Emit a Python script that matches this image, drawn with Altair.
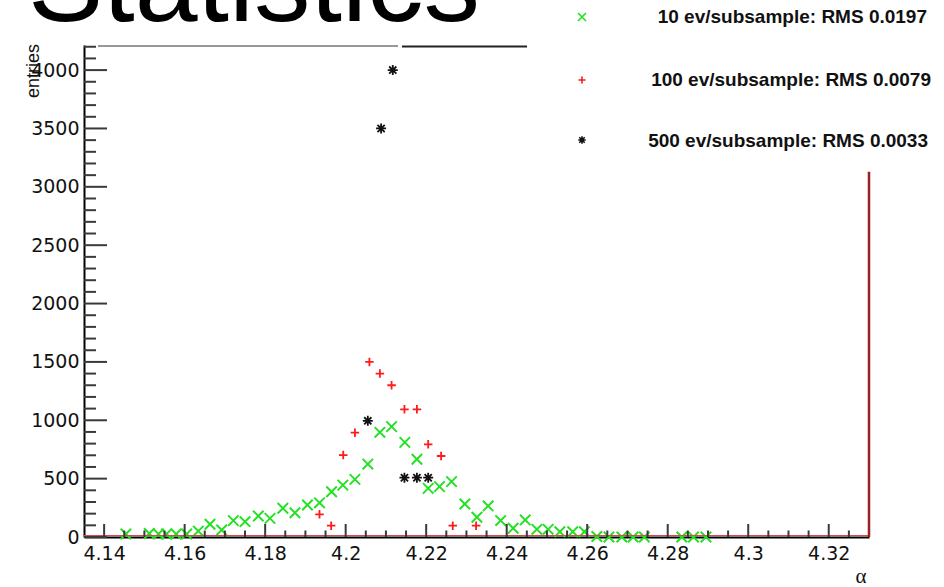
import altair as alt
import pandas as pd

# alpha bin centres and entries, 10 events per subsample
alpha_10 = [4.1454, 4.1512, 4.1535, 4.1555, 4.1579, 4.1605, 4.1634, 4.1663, 4.1692, 4.1721,
            4.1750, 4.1783, 4.1812, 4.1844, 4.1874, 4.1905, 4.1935, 4.1965, 4.1993, 4.2023,
            4.2055, 4.2085, 4.2114, 4.2147, 4.2177, 4.2205, 4.2233, 4.2263, 4.2296, 4.2326,
            4.2354, 4.2385, 4.2416, 4.2446, 4.2475, 4.2503, 4.2532, 4.2564, 4.2593, 4.2624,
            4.2654, 4.2686, 4.2714, 4.2742, 4.2835, 4.2864, 4.2895]
entries_10 = [26, 30, 26, 26, 26, 26, 51, 109, 60, 140,
              131, 180, 160, 246, 208, 274, 293, 388, 445, 494,
              625, 897, 945, 811, 666, 417, 431, 474, 283, 169,
              266, 141, 75, 146, 66, 66, 45, 45, 45, 4,
              0, 0, 0, 0, 0, 0, 0]

# 100 events per subsample
alpha_100 = [4.1935, 4.1964, 4.1994, 4.2023, 4.2059, 4.2085, 4.2114, 4.2146, 4.2177,
             4.2205, 4.2237, 4.2266, 4.2324]
entries_100 = [194, 97, 702, 894, 1500, 1400, 1300, 1094, 1094, 794, 694, 97, 97]

# 500 events per subsample
alpha_500 = [4.2055, 4.2088, 4.2117, 4.2146, 4.2177, 4.2205]
entries_500 = [995, 3500, 4000, 508, 508, 508]

legend_labels = ["10 ev/subsample: RMS 0.0197",
                 "100 ev/subsample: RMS 0.0079",
                 "500 ev/subsample: RMS 0.0033"]

# axis ticks
x_major = [4.14, 4.16, 4.18, 4.2, 4.22, 4.24, 4.26, 4.28, 4.3, 4.32]
x_minor = [4.145, 4.15, 4.155, 4.165, 4.17, 4.175, 4.185, 4.19, 4.195,
           4.205, 4.21, 4.215, 4.225, 4.23, 4.235, 4.245, 4.25, 4.255,
           4.265, 4.27, 4.275, 4.285, 4.29, 4.295, 4.305, 4.31, 4.315, 4.325]
y_major = [0, 500, 1000, 1500, 2000, 2500, 3000, 3500, 4000]
y_minor = [100, 200, 300, 400, 600, 700, 800, 900, 1100, 1200, 1300, 1400,
           1600, 1700, 1800, 1900, 2100, 2200, 2300, 2400, 2600, 2700, 2800, 2900,
           3100, 3200, 3300, 3400, 3600, 3700, 3800, 3900, 4100, 4200]

W, H = 785, 492
xs = alt.Scale(domain=[4.135, 4.33], nice=False, zero=False)
ys = alt.Scale(domain=[0, 4215], nice=False, zero=False)

X_SHAPE = "M-1,-1L1,1M-1,1L1,-1"
PLUS_SHAPE = "M-1,0L1,0M0,-1L0,1"
STAR_SHAPE = "M-1,0L1,0M0,-1L0,1M-0.72,-0.72L0.72,0.72M-0.72,0.72L0.72,-0.72"

GREEN, RED, BLACK = "#22e022", "#ff1a1a", "#111111"

# one axis definition per channel, shared by every layer that uses the scale
x_axis = alt.Axis(values=x_major, format="~g", title=None, ticks=False, tickSize=0,
                  grid=False, domainColor="#000000", domainWidth=2,
                  labelFont="DejaVu Sans", labelFontSize=19, labelColor="#111111",
                  labelPadding=7, labelFlush=False, labelOverlap=False)
y_axis = alt.Axis(values=y_major, format="d", title=None, ticks=False, tickSize=0,
                  grid=False, domainColor="#000000", domainWidth=2,
                  labelFont="DejaVu Sans", labelFontSize=19, labelColor="#111111",
                  labelPadding=5, labelFlush=False, labelOverlap=False)


def series(xv, nv, shape, size, color, sw):
    df = pd.DataFrame({"alpha": xv, "entries": nv})
    return alt.Chart(df).mark_point(
        shape=shape, size=size, filled=False, color=color, strokeWidth=sw, opacity=1
    ).encode(
        x=alt.X("alpha:Q", scale=xs, axis=x_axis),
        y=alt.Y("entries:Q", scale=ys, axis=y_axis),
    )


def y_ticks(vals, length, width):
    return alt.Chart(pd.DataFrame({"v": vals})).mark_rule(
        color="#3a3a3a", strokeWidth=width
    ).encode(y=alt.Y("v:Q", scale=ys, axis=y_axis), x=alt.value(0), x2=alt.value(length))


def x_ticks(vals, length, width):
    return alt.Chart(pd.DataFrame({"v": vals})).mark_rule(
        color="#3a3a3a", strokeWidth=width
    ).encode(x=alt.X("v:Q", scale=xs, axis=x_axis), y=alt.value(H), y2=alt.value(H - length))


def label(text, x, y, **kw):
    return alt.Chart(pd.DataFrame({"t": [text]})).mark_text(**kw).encode(
        x=alt.value(x), y=alt.value(y), text="t:N")


def symbol(shape, size, color, sw, x, y):
    return alt.Chart(pd.DataFrame({"t": [0]})).mark_point(
        shape=shape, size=size, filled=False, color=color, strokeWidth=sw, opacity=1
    ).encode(x=alt.value(x), y=alt.value(y))


def hline(x1, x2, y, color, width):
    return alt.Chart(pd.DataFrame({"t": [0]})).mark_rule(color=color, strokeWidth=width).encode(
        x=alt.value(x1), x2=alt.value(x2), y=alt.value(y))


# red histogram edge along the bottom and right side of the frame
bottom_edge = hline(0, W, H - 1.5, "#e04848", 1.2)
right_edge = alt.Chart(pd.DataFrame({"top": [3130], "bottom": [0]})).mark_rule(
    color="#9b1f1f", strokeWidth=2.5
).encode(x=alt.value(W), y=alt.Y("top:Q", scale=ys, axis=y_axis), y2="bottom:Q")

layers = [
    series(alpha_10, entries_10, X_SHAPE, 110, GREEN, 1.9),
    bottom_edge,
    right_edge,
    hline(14, 314, 1, "#333333", 1.2),
    hline(318, 443, 1.5, "#222222", 2),
    y_ticks(y_major, 23, 2),
    y_ticks(y_minor, 12, 2),
    x_ticks(x_major, 13, 2),
    x_ticks(x_minor, 6.5, 2),
    series(alpha_100, entries_100, PLUS_SHAPE, 72, RED, 1.8),
    series(alpha_500, entries_500, STAR_SHAPE, 100, BLACK, 1.8),
    # legend
    symbol(X_SHAPE, 64, GREEN, 1.6, 498, -28),
    symbol(PLUS_SHAPE, 49, RED, 1.6, 498, 35),
    symbol(STAR_SHAPE, 56, BLACK, 1.6, 498, 95),
    label(legend_labels[0], 843, -28, align="right", baseline="middle",
          font="Liberation Sans", fontSize=19, fontWeight="bold", color="#111111"),
    label(legend_labels[1], 847, 35, align="right", baseline="middle",
          font="Liberation Sans", fontSize=19, fontWeight="bold", color="#111111"),
    label(legend_labels[2], 844, 96, align="right", baseline="middle",
          font="Liberation Sans", fontSize=19, fontWeight="bold", color="#111111"),
    # titles
    label("Statistics", -56, -24, align="left", baseline="alphabetic",
          font="Liberation Sans", fontSize=113, color="#000000"),
    label("entries", -45, -1, align="right", baseline="alphabetic", angle=270,
          font="Liberation Sans", fontSize=18, color="#111111"),
    label("α", 777, 538, align="center", baseline="alphabetic",
          font="Liberation Serif", fontSize=21, color="#111111"),
]

chart = alt.layer(*layers).properties(
    width=W,
    height=H,
    padding={"left": 84, "top": 45, "right": 944 - 84 - W, "bottom": 587 - 45 - H},
    autosize=alt.AutoSizeParams(type="none"),
).configure_view(stroke=None)

chart.save("out.html", embed_options={"renderer": "svg", "actions": False})
